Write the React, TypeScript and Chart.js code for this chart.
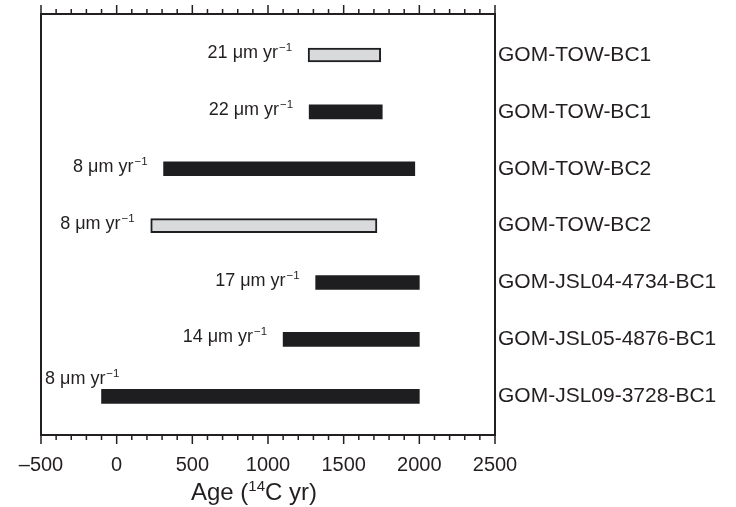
import React, { useEffect, useRef } from 'react';
import { Chart, registerables } from 'chart.js';

Chart.register(...registerables);

// ---- data ----
const sampleLabels = [
  'GOM-TOW-BC1',
  'GOM-TOW-BC1',
  'GOM-TOW-BC2',
  'GOM-TOW-BC2',
  'GOM-JSL04-4734-BC1',
  'GOM-JSL05-4876-BC1',
  'GOM-JSL09-3728-BC1',
];
const rowPositions = [1, 2, 3, 4, 5, 6, 7];
const ageStart = [1265, 1272, 310, 225, 1315, 1100, -100];
const ageEnd = [1745, 1755, 1970, 1720, 2000, 2000, 2000];
const rates = [21, 22, 8, 8, 17, 14, 8];
const openBar = [true, false, false, true, false, false, false];
const xTickValues = [-500, 0, 500, 1000, 1500, 2000, 2500];
const xMinorStep = 100;
const xMin = -500;
const xMax = 2500;

const FONT = '"Liberation Sans", Arial, Helvetica, sans-serif';
const INK = '#231f20';
const DARK_BAR = '#1e1e21';
const LIGHT_BAR = '#d9dadc';

const decorPlugin = {
  id: 'decor',
  afterDraw(chart: any) {
    const { ctx, chartArea: a, scales } = chart;
    const xs = scales.x;
    const ys = scales.y;
    ctx.save();

    // minor / major tick marks on top and bottom
    ctx.strokeStyle = INK;
    ctx.lineWidth = 1.5;
    for (let v = xMin; v <= xMax; v += xMinorStep) {
      const px = xs.getPixelForValue(v);
      const major = v % 500 === 0;
      const len = major ? 9 : 5;
      ctx.beginPath();
      ctx.moveTo(px, a.top);
      ctx.lineTo(px, a.top - len);
      ctx.moveTo(px, a.bottom);
      ctx.lineTo(px, a.bottom + len);
      ctx.stroke();
    }

    // frame
    ctx.lineWidth = 2;
    ctx.strokeRect(a.left, a.top, a.right - a.left, a.bottom - a.top);

    // rate annotations
    ctx.fillStyle = INK;
    ctx.textAlign = 'left';
    ctx.textBaseline = 'alphabetic';
    for (let i = 0; i < rowPositions.length; i++) {
      const x0 = xs.getPixelForValue(ageStart[i]);
      const yc = ys.getPixelForValue(rowPositions[i]);
      const main = `${rates[i]} \u03bcm yr`;
      const sup = '\u22121';
      ctx.font = `18px ${FONT}`;
      const wMain = ctx.measureText(main).width;
      ctx.font = `11.5px ${FONT}`;
      const wSup = ctx.measureText(sup).width;
      let left = x0 - 16 - wMain - wSup - 1;
      let base = yc + 3;
      if (left < a.left + 4) {
        left = a.left + 4;
        base = yc - 12;
      }
      ctx.font = `18px ${FONT}`;
      ctx.fillText(main, left, base);
      ctx.font = `11.5px ${FONT}`;
      ctx.fillText(sup, left + wMain + 1, base - 7);
    }

    // axis title: Age (14C yr)
    const p1 = 'Age (';
    const p2 = '14';
    const p3 = 'C yr)';
    ctx.font = `24px ${FONT}`;
    const w1 = ctx.measureText(p1).width;
    const w3 = ctx.measureText(p3).width;
    ctx.font = `15px ${FONT}`;
    const w2 = ctx.measureText(p2).width;
    const total = w1 + w2 + w3;
    const cx = (a.left + a.right) / 2 - 14;
    const tb = a.bottom + 65;
    let tx = cx - total / 2;
    ctx.font = `24px ${FONT}`;
    ctx.fillText(p1, tx, tb);
    tx += w1;
    ctx.font = `15px ${FONT}`;
    ctx.fillText(p2, tx, tb - 9);
    tx += w2;
    ctx.font = `24px ${FONT}`;
    ctx.fillText(p3, tx, tb);

    ctx.restore();
  },
};

export default function App() {
  const ref = useRef<HTMLCanvasElement | null>(null);

  useEffect(() => {
    const canvas = ref.current;
    if (!canvas) return;
    const chart = new Chart(canvas, {
      type: 'bar',
      data: {
        datasets: [
          {
            data: rowPositions.map((p, i) => ({ x: [ageStart[i], ageEnd[i]], y: p })) as any,
            backgroundColor: openBar.map((o) => (o ? LIGHT_BAR : DARK_BAR)),
            borderColor: DARK_BAR,
            borderWidth: openBar.map((o) => (o ? 2 : 0)) as any,
            borderSkipped: false,
            barThickness: 14,
            xAxisID: 'x',
            yAxisID: 'y',
          },
        ],
      },
      options: {
        indexAxis: 'y',
        responsive: false,
        animation: false,
        layout: { padding: { left: 41, right: 0, top: 0, bottom: 0 } },
        plugins: {
          legend: { display: false },
          tooltip: { enabled: false },
          title: { display: false },
        },
        scales: {
          x: {
            type: 'linear',
            position: 'bottom',
            offset: false,
            min: xMin,
            max: xMax,
            afterBuildTicks: (s: any) => {
              s.ticks = xTickValues.map((v) => ({ value: v }));
            },
            grid: { display: false, drawTicks: false },
            border: { display: false },
            ticks: {
              padding: 18,
              color: INK,
              font: { family: FONT, size: 20 },
              maxRotation: 0,
              autoSkip: false,
              callback: (v: any) => (Number(v) < 0 ? '\u2013' + Math.abs(Number(v)) : String(v)),
            },
            afterFit: (s: any) => {
              s.height = 72;
              s.paddingLeft = 0;
              s.paddingRight = 0;
            },
          },
          xTop: {
            type: 'linear',
            position: 'top',
            axis: 'x',
            offset: false,
            min: xMin,
            max: xMax,
            grid: { display: false, drawTicks: false },
            border: { display: false },
            ticks: { display: false },
            afterFit: (s: any) => {
              s.height = 14;
              s.paddingLeft = 0;
              s.paddingRight = 0;
            },
          },
          y: {
            type: 'linear',
            position: 'right',
            offset: false,
            reverse: true,
            min: 0.28,
            max: 7.68,
            afterBuildTicks: (s: any) => {
              s.ticks = rowPositions.map((v) => ({ value: v }));
            },
            grid: { display: false, drawTicks: false },
            border: { display: false },
            ticks: {
              padding: 3,
              color: INK,
              font: { family: FONT, size: 21 },
              autoSkip: false,
              callback: (v: any) => {
                const idx = rowPositions.indexOf(Number(v));
                return idx >= 0 ? sampleLabels[idx] : '';
              },
            },
            afterFit: (s: any) => {
              s.width = 241;
              s.paddingTop = 0;
              s.paddingBottom = 0;
            },
          },
        },
      } as any,
      plugins: [decorPlugin],
    });
    return () => chart.destroy();
  }, []);

  return (
    <canvas
      ref={ref}
      width={736}
      height={507}
      style={{ position: 'fixed', left: 0, top: 0, width: 736, height: 507, background: '#ffffff' }}
    />
  );
}
